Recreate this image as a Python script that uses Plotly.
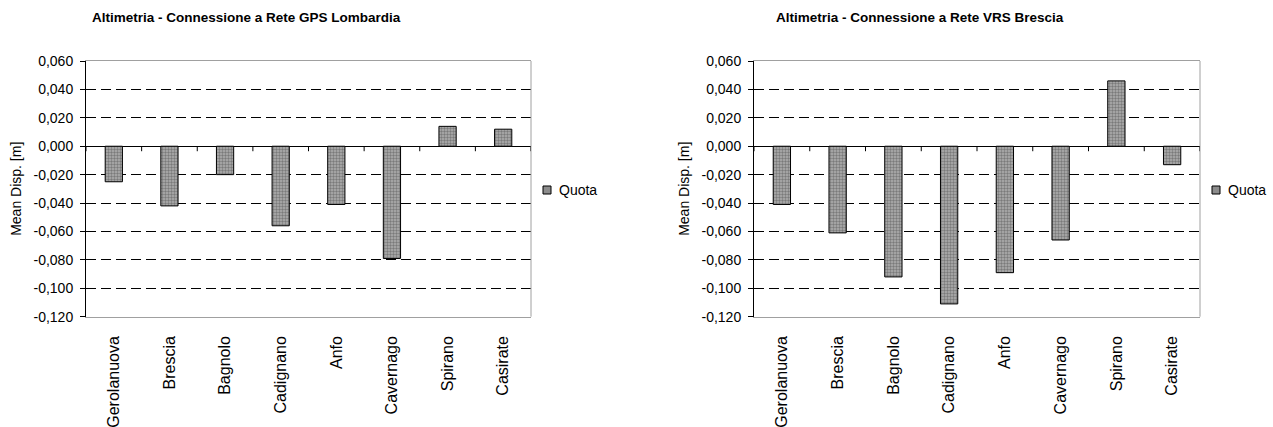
import plotly.graph_objects as go

W, H = 1273, 427

stations = ["Gerolanuova", "Brescia", "Bagnolo", "Cadignano", "Anfo",
            "Cavernago", "Spirano", "Casirate"]
quota_lombardia = [-0.025, -0.042, -0.020, -0.056, -0.041, -0.079, 0.014, 0.012]
quota_brescia = [-0.041, -0.061, -0.092, -0.111, -0.089, -0.066, 0.046, -0.013]

y_ticks = [0.06, 0.04, 0.02, 0.0, -0.02, -0.04, -0.06, -0.08, -0.10, -0.12]

titles = ["Altimetria - Connessione a Rete GPS Lombardia",
          "Altimetria - Connessione a Rete VRS Brescia"]
series_name = "Quota"
y_title = "Mean Disp. [m]"

FONT = "Liberation Sans, Arial, sans-serif"


def fmt(v):
    # decimal comma, ASCII hyphen for negatives
    s = f"{abs(v):.3f}".replace(".", ",")
    return ("-" + s) if v < 0 else s


y_ticktext = [fmt(v) for v in y_ticks]

# plot areas in pixels: (left, right), shared top/bottom
panels = [(86, 531), (754, 1200)]
top_px, bottom_px = 61, 316.7
y_dom = [(H - bottom_px) / H, (H - top_px) / H]
title_cx = [246, 920]

bar_style = dict(
    color="#9a9a9a",
    line=dict(color="black", width=1),
    pattern=dict(shape=".", fgcolor="#444444", bgcolor="#b0b0b0",
                 size=3, solidity=0.5),
)

fig = go.Figure()
series = [quota_lombardia, quota_brescia]

for i, (vals, (l, r)) in enumerate(zip(series, panels)):
    sfx = "" if i == 0 else "2"
    xa, ya = f"x{sfx}", f"y{sfx}"
    fig.add_trace(go.Bar(
        x=stations, y=vals, name=series_name, marker=bar_style,
        xaxis=xa, yaxis=ya, showlegend=False,
    ))

    fig.update_layout(**{
        f"xaxis{sfx}": dict(
            domain=[l / W, r / W], anchor=ya, automargin=False,
            type="category", range=[-0.5, len(stations) - 0.5],
            showgrid=False, ticks="", tickangle=-90,
            tickfont=dict(family=FONT, size=16, color="black"),
            ticklabelstandoff=12,
            showline=True, linecolor="#a0a0a0", linewidth=1, mirror=True,
            zeroline=False,
        ),
        f"yaxis{sfx}": dict(
            domain=y_dom, anchor=xa, automargin=False,
            range=[-0.12, 0.06],
            tickvals=y_ticks, ticktext=y_ticktext,
            tickfont=dict(family=FONT, size=14, color="black"),
            ticks="outside", ticklen=5, tickcolor="black",
            ticklabelstandoff=4,
            showgrid=True, gridcolor="black", griddash="10px,5px", gridwidth=1,
            zeroline=True, zerolinecolor="black", zerolinewidth=1,
            showline=True, linecolor="black", linewidth=1, mirror=False,
        ),
    })

    # right border of the plot area
    fig.add_shape(type="line", xref=f"x{sfx} domain", yref=f"y{sfx} domain",
                  x0=1, x1=1, y0=0, y1=1, line=dict(color="#a0a0a0", width=1),
                  layer="above")
    # category tick marks along the zero line
    for k in range(len(stations) + 1):
        fig.add_shape(type="line", xref=xa, yref=ya,
                      x0=k - 0.5, x1=k - 0.5,
                      ysizemode="pixel", yanchor=0, y0=0, y1=-5,
                      line=dict(color="black", width=1), layer="above")

    # chart title
    fig.add_annotation(text=f"<b>{titles[i]}</b>", xref="paper", yref="paper",
                       x=title_cx[i] / W, y=(H - 17) / H,
                       showarrow=False, xanchor="center", yanchor="middle",
                       font=dict(family=FONT, size=13.5, color="black"))
    # y-axis title
    fig.add_annotation(text=y_title, xref="paper", yref="paper",
                       x=(l - 70) / W, y=(H - (top_px + bottom_px) / 2) / H,
                       textangle=-90, showarrow=False,
                       xanchor="center", yanchor="middle",
                       font=dict(family=FONT, size=14, color="black"))

    # legend: key square and series name to the right of the plot area
    kx = r + 12
    fig.add_shape(type="rect", xref="paper", yref="paper",
                  x0=kx / W, x1=(kx + 8) / W,
                  y0=(H - 194) / H, y1=(H - 186) / H,
                  fillcolor="#8c8c8c", line=dict(color="black", width=1))
    fig.add_annotation(text=series_name, xref="paper", yref="paper",
                       x=(kx + 14) / W, y=(H - 190) / H,
                       showarrow=False, xanchor="left", yanchor="middle",
                       font=dict(family=FONT, size=14, color="black"))

fig.update_layout(
    width=W, height=H,
    margin=dict(l=0, r=0, t=0, b=0),
    paper_bgcolor="white", plot_bgcolor="white",
    bargap=0.69,
    showlegend=False,
    font=dict(family=FONT, color="black"),
)

fig.write_html("out.html")
